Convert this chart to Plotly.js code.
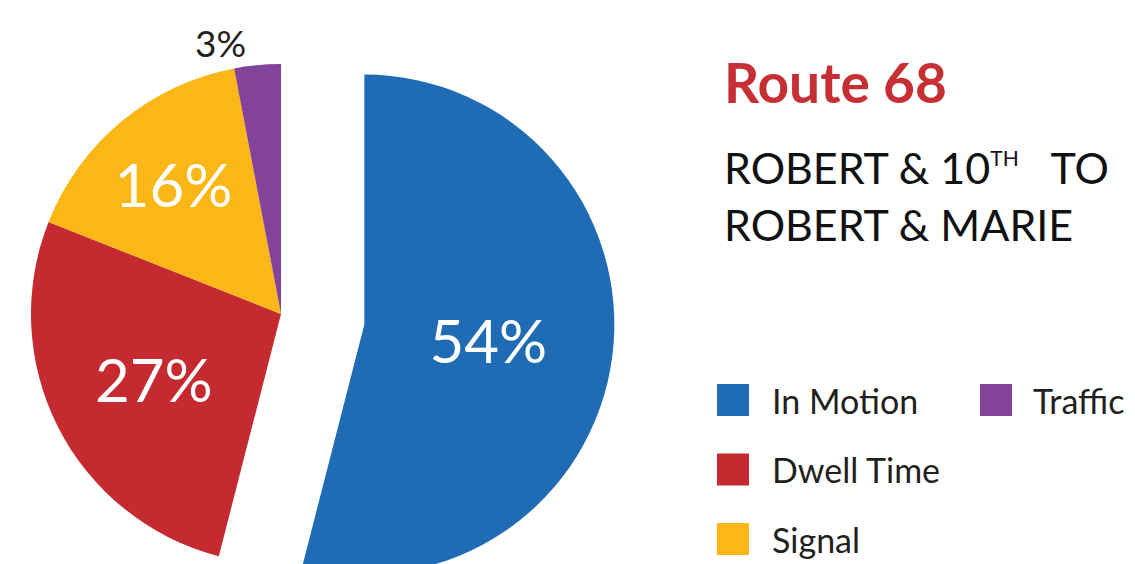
<!DOCTYPE html>
<html><head><meta charset="utf-8">
<script src="https://cdn.plot.ly/plotly-3.0.1.min.js"></script>
<style>
html,body{margin:0;padding:0;overflow:hidden;width:1135px;height:564px;background:#fff}
#chart{position:absolute;left:-60px;top:-20px;}
</style>
</head><body><div id="chart"></div>
<script>
// ---- data ----
const categories = ['In Motion', 'Dwell Time', 'Signal', 'Traffic'];
const shares = [54, 27, 16, 3];
const colors = ['#1F6CB4', '#C42A2F', '#FBB617', '#834398'];
const pulls = [0.336, 0, 0, 0];
const textPositions = ['inside', 'inside', 'inside', 'outside'];
const titleText = 'Route 68';
const subtitleLines = ['ROBERT &amp; 10<sup><span style="font-size:21px">TH</span></sup>\u00a0\u00a0\u00a0TO', 'ROBERT &amp; MARIE'];

// ---- layout geometry (page pixels -> paper) ----
const L = 60, T = 20, W = 1195, H = 668;
const px = x => (x + L) / W;
const py = y => 1 - (y + T) / H;
const FONT = 'Lato, "Open Sans", sans-serif';

const pie = {
  type: 'pie',
  labels: categories,
  values: shares,
  sort: false,
  direction: 'clockwise',
  rotation: 0,
  pull: pulls,
  marker: {colors: colors, line: {width: 0}},
  texttemplate: '%{value}%',
  textposition: textPositions,
  insidetextorientation: 'horizontal',
  insidetextfont: {family: FONT, size: 60, color: '#ffffff'},
  outsidetextfont: {family: FONT, size: 37, color: '#231F20'},
  domain: {x: [0, 2 * (281 + L) / W], y: [0, 1]},
  showlegend: false,
  hoverinfo: 'none'
};

const annotations = [
  {text: '<b>' + titleText + '</b>', x: px(722), y: py(82), xanchor: 'left', yanchor: 'middle',
   font: {family: FONT, size: 55, color: '#C62F33'}},
  {text: subtitleLines[0], x: px(722), y: py(167), xanchor: 'left', yanchor: 'middle',
   font: {family: FONT, size: 43, color: '#111111'}},
  {text: subtitleLines[1], x: px(722), y: py(224), xanchor: 'left', yanchor: 'middle',
   font: {family: FONT, size: 43, color: '#111111'}}
];
const shapes = [];
categories.forEach((c, i) => {
  const col = i < 3 ? 0 : 1;
  const row = i < 3 ? i : 0;
  const sx = 717 + col * 263, sy = 384 + row * 69.5;
  shapes.push({type: 'rect', xref: 'paper', yref: 'paper',
    x0: px(sx), x1: px(sx + 32), y0: py(sy + 32), y1: py(sy),
    fillcolor: colors[i], line: {width: 0}});
  annotations.push({text: c, x: px(770 + col * 261), y: py(sy + 16), xanchor: 'left', yanchor: 'middle',
    font: {family: FONT, size: 34, color: '#231F20'}});
});
annotations.forEach(a => { a.xref = 'paper'; a.yref = 'paper'; a.showarrow = false; });

Plotly.newPlot('chart', [pie], {
  width: W, height: H,
  margin: {l: 0, r: 0, t: 0, b: 0},
  paper_bgcolor: '#ffffff',
  annotations: annotations,
  shapes: shapes,
  showlegend: false
}, {staticPlot: true});
</script>
</body></html>
